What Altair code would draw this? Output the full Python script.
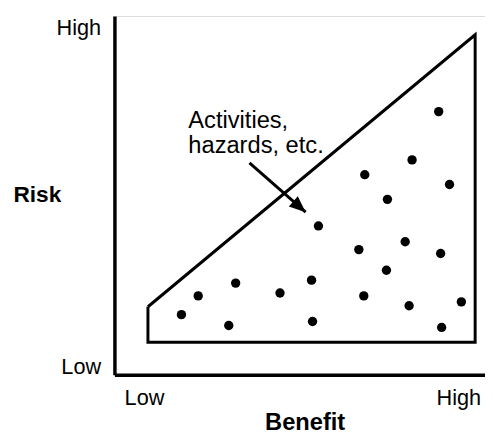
import altair as alt
import pandas as pd

# Activities / hazards (benefit, risk)
benefit = [329, 302, 254, 340, 277, 207, 248, 295, 331, 276, 123,
           200, 85, 168, 253, 299, 352, 68, 116, 201, 332]
risk = [267, 218, 203, 193, 178, 151, 127, 135, 123, 106, 93,
        96, 80, 83, 80, 70, 74, 61, 50, 54, 48]

# acceptable region outline (closed)
region_benefit = [34, 366, 366, 34, 34]
region_risk = [69, 345, 33, 33, 69]

# axis tick labels
x_tick_values = [30, 349]
y_tick_values = [8, 352]
tick_labels = ["Low", "High"]

# annotation
note_lines = ["Activities,", "hazards, etc."]
note_benefit = [75, 75]
note_risk = [250, 225]
arrow_benefit = [137, 194]
arrow_risk = [215, 165]

FONT = "Liberation Sans"
X_DOMAIN = [0, 376]
Y_DOMAIN = [0, 364]

pts = pd.DataFrame({"b": benefit, "r": risk})
region = pd.DataFrame({"b": region_benefit, "r": region_risk,
                       "o": list(range(len(region_benefit)))})
notes = pd.DataFrame({"b": note_benefit, "r": note_risk, "t": note_lines})
arrow = pd.DataFrame({"b": arrow_benefit, "r": arrow_risk, "o": [0, 1]})
tip = arrow.iloc[[1]]

lab_expr = f"datum.value < 100 ? '{tick_labels[0]}' : '{tick_labels[1]}'"

xscale = alt.Scale(domain=X_DOMAIN, nice=False, zero=False)
yscale = alt.Scale(domain=Y_DOMAIN, nice=False, zero=False)

xaxis = alt.Axis(
    values=x_tick_values, labelExpr=lab_expr, grid=False, ticks=False, tickSize=0,
    labelPadding=13, labelFontSize=22, labelFont=FONT, labelColor="black",
    labelFlush=False, domainColor="black", domainWidth=3.5,
    title="Benefit", titleFont=FONT, titleFontSize=24, titleFontWeight="bold",
    titleColor="black", titleX=193, titleY=56, titleAlign="center",
    titleBaseline="alphabetic", titleAngle=0,
)
yaxis = alt.Axis(
    values=y_tick_values, labelExpr=lab_expr, grid=False,
    ticks=False, tickSize=0, labelPadding=14, labelFontSize=22, labelFont=FONT,
    labelColor="black", labelFlush=False, domainColor="black", domainWidth=3.5,
    title="Risk", titleFont=FONT, titleFontSize=23, titleFontWeight="bold",
    titleColor="black", titleX=-103, titleY=188, titleAlign="left",
    titleBaseline="alphabetic", titleAngle=0,
)

base_x = alt.X("b:Q", scale=xscale, axis=xaxis)
base_y = alt.Y("r:Q", scale=yscale, axis=yaxis)

outline = alt.Chart(region).mark_line(color="black", strokeWidth=3).encode(
    x=base_x, y=base_y, order="o:Q"
)
dots = alt.Chart(pts).mark_circle(color="black", opacity=1, size=90).encode(
    x=alt.X("b:Q", scale=xscale), y=alt.Y("r:Q", scale=yscale)
)
text = alt.Chart(notes).mark_text(
    align="left", baseline="alphabetic", fontSize=24, font=FONT, color="black"
).encode(x=alt.X("b:Q", scale=xscale), y=alt.Y("r:Q", scale=yscale), text="t:N")
shaft = alt.Chart(arrow).mark_line(color="black", strokeWidth=3).encode(
    x=alt.X("b:Q", scale=xscale), y=alt.Y("r:Q", scale=yscale), order="o:Q"
)
head = alt.Chart(tip).mark_point(
    shape="M0,0L-1,-0.42L-1,0.42Z", filled=True, color="black", opacity=1,
    size=1100, angle=41, strokeWidth=0,
).encode(x=alt.X("b:Q", scale=xscale), y=alt.Y("r:Q", scale=yscale))

chart = alt.layer(outline, dots, text, shaft, head).properties(
    width=376, height=364,
    autosize=alt.AutoSizeParams(type="none"),
    padding={"left": 108, "top": 5, "right": 0, "bottom": 58},
).configure_view(stroke=None).configure(background="white")

chart.save("out.html", embed_options={"renderer": "svg", "actions": False})
